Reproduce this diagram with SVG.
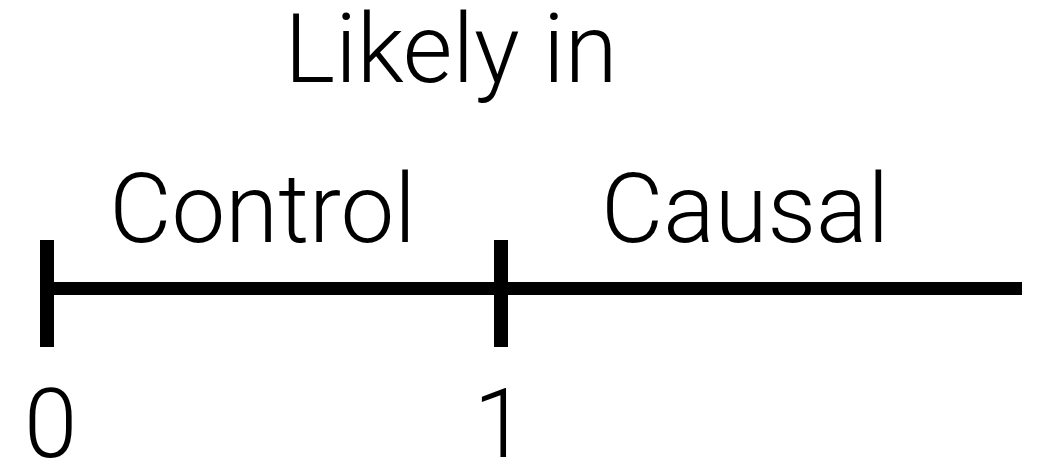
<svg xmlns="http://www.w3.org/2000/svg" width="1037" height="459" viewBox="0 0 1037 459">
<style>
text{font-family:Roboto,"Liberation Sans",sans-serif;font-weight:300;font-size:96px;fill:#000;text-anchor:middle}
.bar{fill:#000}
</style>
<rect width="1037" height="459" fill="#fff"/>
<g id="connectors">
<rect class="bar" x="47" y="282" width="975" height="13"/>
</g>
<g id="tick0"><rect class="bar" x="40" y="240" width="14" height="107"/><text x="50.5" y="457">0</text></g>
<g id="tick1"><rect class="bar" x="494" y="240" width="14" height="107"/><text x="500" y="457">1</text></g>
<g id="title"><text x="451" y="82">Likely in</text></g>
<g id="control"><text x="262.5" y="242">Control</text></g>
<g id="causal"><text x="745" y="242">Causal</text></g>
</svg>
